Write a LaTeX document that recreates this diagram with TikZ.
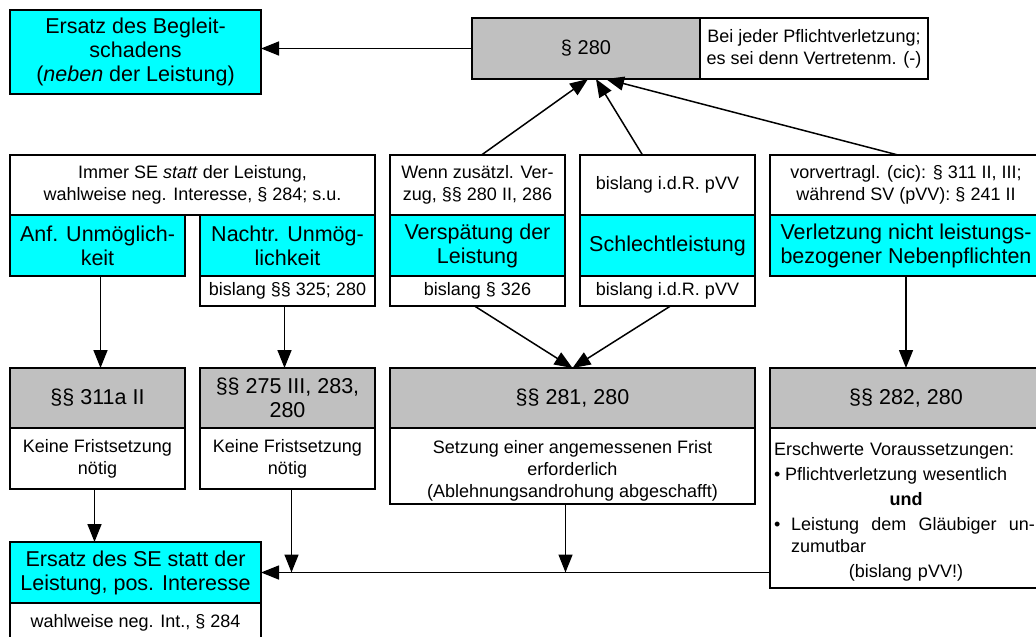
\documentclass[tikz,border=0pt]{standalone}
\usepackage{fontspec}
\setmainfont{Liberation Sans}
\usetikzlibrary{arrows.meta}
\definecolor{tuerkis}{HTML}{00FFFF}
\definecolor{grau}{HTML}{C0C0C0}

\begin{document}
\begin{tikzpicture}[x=1pt,y=-1pt,
    feld/.style={draw=black,line width=1.6pt,rectangle,anchor=north west,
        inner sep=3pt,outer sep=0pt,align=center,fill=white},
    blau/.style={feld,fill=tuerkis},
    grau/.style={feld,fill=grau},
    gross/.style={font=\fontsize{21.5}{24}\selectfont},
    klein/.style={font=\fontsize{18}{22}\selectfont},
    pfeil/.style={line width=1.5pt,-{Triangle[length=18pt,width=14pt]}}]
    \useasboundingbox (0,0) rectangle (1036,637);

    % oben
    \node[blau,gross,minimum width=251pt,minimum height=84pt] (begleit) at (10,10)
        {Ersatz des Begleit-\\schadens\\(\textit{neben} der Leistung)};
    \node[grau,font=\fontsize{20}{22}\selectfont,minimum width=228pt,minimum height=61pt] (p280) at (472,18) {§ 280};
    \node[feld,klein,minimum width=228pt,minimum height=61pt] (pflicht) at (700,18)
        {Bei jeder Pflichtverletzung;\\es sei denn Vertretenm. (-)};

    % Unmoeglichkeit
    \node[feld,klein,minimum width=365pt,minimum height=60pt] (immer) at (10,155)
        {Immer SE \textit{statt} der Leistung,\\wahlweise neg. Interesse, § 284; s.u.};
    \node[blau,gross,minimum width=175pt,minimum height=61pt] (anf) at (10,215)
        {Anf. Unmöglich-\\keit};
    \node[blau,gross,minimum width=175pt,minimum height=61pt] (nachtr) at (200,215)
        {Nachtr. Unmög-\\lichkeit};
    \node[feld,klein,minimum width=175pt,minimum height=30pt] (bis325) at (200,276)
        {bislang §§ 325; 280};

    % Verspaetung, Schlechtleistung
    \node[feld,klein,minimum width=175pt,minimum height=60pt] (wenn) at (390,155)
        {Wenn zusätzl. Ver-\\zug, §§ 280 II, 286};
    \node[blau,gross,minimum width=175pt,minimum height=61pt] (versp) at (390,215)
        {Verspätung der\\Leistung};
    \node[feld,klein,minimum width=175pt,minimum height=30pt] (bis326) at (390,276)
        {bislang § 326};
    \node[feld,klein,minimum width=175pt,minimum height=60pt] (bisher) at (580,155)
        {bislang i.d.R. pVV};
    \node[blau,gross,minimum width=175pt,minimum height=61pt] (schlecht) at (580,215)
        {Schlechtleistung};
    \node[feld,klein,minimum width=175pt,minimum height=30pt] (bispvv) at (580,276)
        {bislang i.d.R. pVV};

    % Nebenpflichten
    \node[feld,klein,minimum width=272pt,minimum height=60pt] (vorv) at (770,155)
        {vorvertragl. (cic): § 311 II, III;\\während SV (pVV): § 241 II};
    \node[blau,gross,minimum width=272pt,minimum height=61pt] (neben) at (770,215)
        {Verletzung nicht leistungs-\\bezogener Nebenpflichten};

    % Anspruchsgrundlagen
    \node[grau,gross,minimum width=175pt,minimum height=60pt] (p311) at (10,368) {§§ 311a II};
    \node[feld,klein,minimum width=175pt,minimum height=61pt] (keine1) at (10,428)
        {Keine Fristsetzung\\nötig};
    \node[grau,gross,minimum width=175pt,minimum height=60pt] (p275) at (200,368)
        {§§ 275 III, 283,\\280};
    \node[feld,klein,minimum width=175pt,minimum height=61pt] (keine2) at (200,428)
        {Keine Fristsetzung\\nötig};
    \node[grau,gross,minimum width=365pt,minimum height=60pt] (p281) at (390,368) {§§ 281, 280};
    \node[feld,klein,minimum width=365pt,minimum height=76pt] (setzung) at (390,428)
        {\rule{0pt}{22pt}Setzung einer angemessenen Frist\\erforderlich\\(Ablehnungsandrohung abgeschafft)};
    \node[grau,gross,minimum width=272pt,minimum height=60pt] (p282) at (770,368) {§§ 282, 280};
    \node[feld,klein,minimum width=272pt,minimum height=160pt,text width=264pt,
        inner sep=4pt,align=left] (erschw) at (770,428)
        {\rule{0pt}{20pt}Erschwerte Voraussetzungen:\\[3pt]
         \makebox[11pt][l]{\textbullet}Pflichtverletzung wesentlich\\[3pt]
         \makebox[264pt]{\textbf{und}}\\[3pt]
         \makebox[17pt][l]{\textbullet}\makebox[244pt][l]{Leistung\hfill dem\hfill Gläubiger\hfill un-}\\
         \hspace*{17pt}zumutbar\\[3pt]
         \makebox[264pt]{(bislang pVV!)}};

    % unten
    \node[blau,gross,minimum width=251pt,minimum height=61pt] (ersatz) at (10,542)
        {Ersatz des SE statt der\\Leistung, pos. Interesse};
    \node[feld,klein,minimum width=251pt,minimum height=40pt] (wahlw) at (10,603)
        {wahlweise neg. Int., § 284};

    % Pfeile
    \draw[pfeil] (p280.west) -- (p280.west -| begleit.east);
    \draw[pfeil] ([xshift=4pt]wenn.north) -- ([xshift=2pt]p280.south);
    \draw[pfeil] ([xshift=-25pt]bisher.north) -- ([xshift=10pt]p280.south);
    \draw[pfeil] ([xshift=-8pt]vorv.north) -- ([xshift=20pt]p280.south);

    \draw[pfeil] ([xshift=3pt]anf.south) -- ([xshift=3pt]p311.north);
    \draw[pfeil] ([xshift=-3pt]bis325.south) -- ([xshift=-3pt]p275.north);
    \draw[pfeil] ([xshift=-3pt]bis326.south) -- (p281.north);
    \draw[pfeil] ([xshift=3pt]bispvv.south) -- (p281.north);
    \draw[pfeil] (neben.south) -- (p282.north);

    \draw[pfeil] ([xshift=-3pt]keine1.south) -- ([xshift=-3pt]keine1.south |- ersatz.north);
    \draw[pfeil] ([xshift=4pt]keine2.south) -- ([xshift=4pt]keine2.south |- ersatz.east);
    \draw[pfeil] ([xshift=-7pt]setzung.south) -- ([xshift=-7pt]setzung.south |- ersatz.east);
    \draw[pfeil] (erschw.west |- ersatz.east) -- (ersatz.east);
\end{tikzpicture}
\end{document}
